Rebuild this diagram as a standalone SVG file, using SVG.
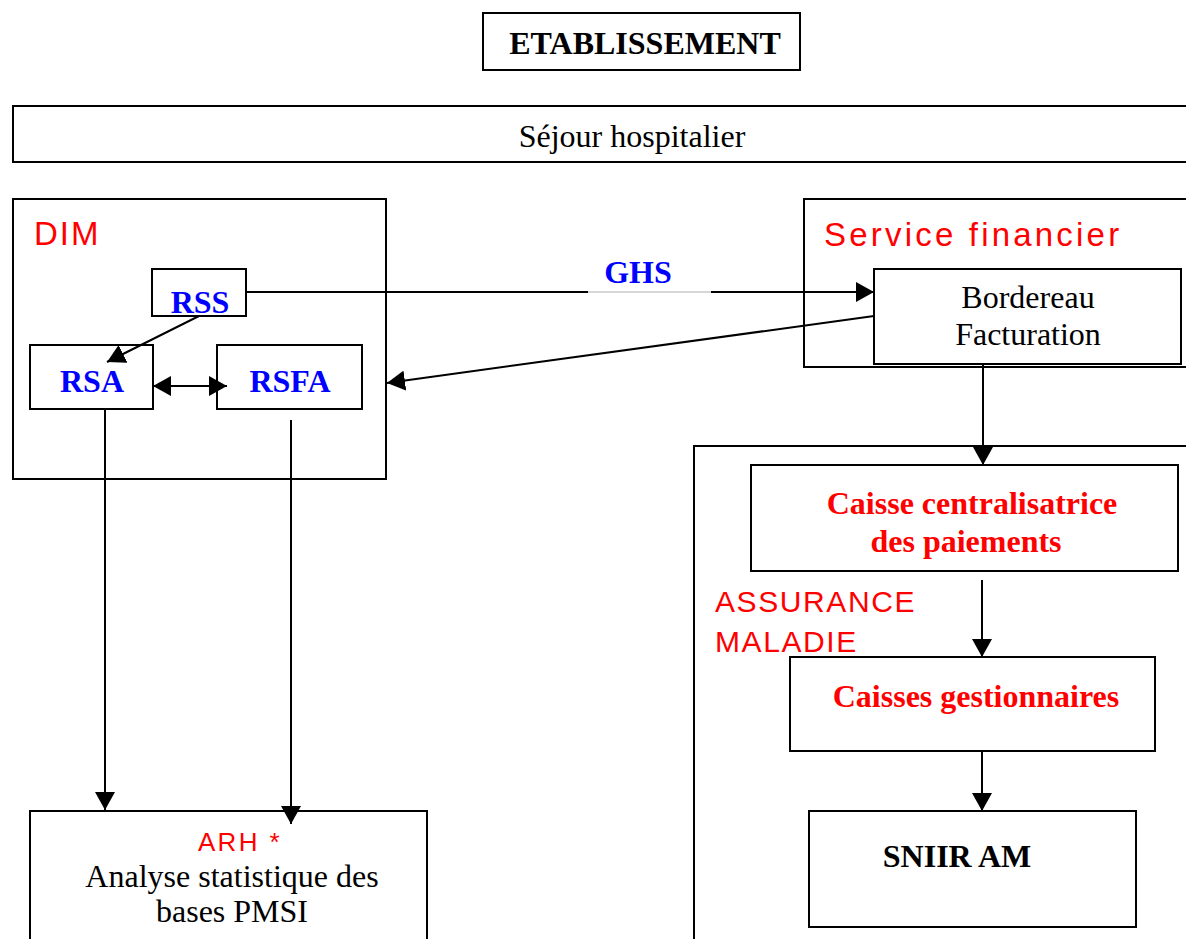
<svg xmlns="http://www.w3.org/2000/svg" width="1186" height="939" viewBox="0 0 1186 939">
  <style>
    .box { fill: none; stroke: #000; stroke-width: 2; }
    .wire { fill: none; stroke: #000; stroke-width: 2; }
    .serif { font-family: "Liberation Serif", "Times New Roman", serif; font-size: 32px; fill: #000; }
    .bold { font-weight: bold; }
    .blue { fill: #0000ff; }
    .red { fill: #ff0000; }
    .sans { font-family: "Liberation Sans", Arial, sans-serif; fill: #ff0000; }
    .mid { text-anchor: middle; }
  </style>
  <defs>
    <marker id="head" viewBox="0 0 18 20" refX="18" refY="10" markerWidth="18" markerHeight="20" markerUnits="userSpaceOnUse" orient="auto-start-reverse">
      <path d="M0,0 L18,10 L0,20 Z" fill="#000"/>
    </marker>
  </defs>
  <rect width="1186" height="939" fill="#fff"/>

  <g id="etablissement">
    <rect class="box" x="483" y="13" width="317" height="57"/>
    <text class="serif bold mid" x="645" y="54">ETABLISSEMENT</text>
  </g>

  <g id="sejour">
    <path class="box" d="M1190,106 H13 V162 H1190"/>
    <text class="serif mid" x="632" y="147">Séjour hospitalier</text>
  </g>

  <g id="dim">
    <rect class="box" x="13" y="199" width="373" height="280"/>
    <text class="sans" x="34" y="245" font-size="33" letter-spacing="2">DIM</text>
  </g>

  <g id="rss">
    <rect class="box" x="152" y="269" width="94" height="47"/>
    <text class="serif bold blue mid" x="200" y="313" font-size="31">RSS</text>
  </g>

  <g id="rsa">
    <rect class="box" x="30" y="345" width="123" height="64"/>
    <text class="serif bold blue mid" x="92" y="392" font-size="31">RSA</text>
  </g>

  <g id="rsfa">
    <rect class="box" x="217" y="345" width="145" height="64"/>
    <text class="serif bold blue mid" x="290" y="392" font-size="31">RSFA</text>
  </g>

  <g id="service-financier">
    <path class="box" d="M1190,199 H804 V367 H1190"/>
    <text class="sans" x="824" y="246" font-size="33" letter-spacing="3.2">Service financier</text>
  </g>

  <g id="bordereau">
    <rect class="box" x="874" y="269" width="307" height="95"/>
    <text class="serif mid" x="1028" y="308">Bordereau</text>
    <text class="serif mid" x="1028" y="345">Facturation</text>
  </g>

  <g id="assurance-maladie">
    <path class="box" d="M694,945 V446 H1190"/>
    <text class="sans" x="715" y="612" font-size="30" letter-spacing="1.6">ASSURANCE</text>
    <text class="sans" x="715" y="652" font-size="30" letter-spacing="1.6">MALADIE</text>
  </g>

  <g id="caisse-centralisatrice">
    <rect class="box" x="751" y="465" width="427" height="106"/>
    <text class="serif bold red mid" x="972" y="514">Caisse centralisatrice</text>
    <text class="serif bold red mid" x="966" y="552">des paiements</text>
  </g>

  <g id="caisses-gestionnaires">
    <rect class="box" x="790" y="657" width="365" height="94"/>
    <text class="serif bold red mid" x="976" y="707">Caisses gestionnaires</text>
  </g>

  <g id="sniir-am">
    <rect class="box" x="809" y="811" width="327" height="116"/>
    <text class="serif bold mid" x="957" y="867">SNIIR AM</text>
  </g>

  <g id="arh">
    <path class="box" d="M30,945 V811 H427 V945"/>
    <text class="sans mid" x="240" y="851" font-size="26" letter-spacing="2.4">ARH *</text>
    <text class="serif mid" x="232" y="887">Analyse statistique des</text>
    <text class="serif mid" x="232" y="922">bases PMSI</text>
  </g>

  <g id="connectors">
    <!-- RSS to Bordereau, label GHS sits in a gap of the line -->
    <path class="wire" d="M246,292 H588"/>
    <path d="M588,292 H711" stroke="#999" stroke-width="0.8" fill="none"/>
    <path class="wire" d="M711,292 H874" marker-end="url(#head)"/>
    <text class="serif bold blue mid" x="638" y="283" font-size="31">GHS</text>
    <!-- RSS to RSA -->
    <path class="wire" d="M199,316 L107,362" marker-end="url(#head)"/>
    <!-- RSA <-> RSFA -->
    <path class="wire" d="M153,386 H227" marker-start="url(#head)" marker-end="url(#head)"/>
    <!-- Bordereau back to DIM -->
    <path class="wire" d="M874,316 L387,383" marker-end="url(#head)"/>
    <!-- DIM outputs down to ARH -->
    <path class="wire" d="M105,409 V810" marker-end="url(#head)"/>
    <path class="wire" d="M291,420 V824" marker-end="url(#head)"/>
    <!-- payment chain -->
    <path class="wire" d="M983,364 V465" marker-end="url(#head)"/>
    <path class="wire" d="M982,580 V657" marker-end="url(#head)"/>
    <path class="wire" d="M982,751 V811" marker-end="url(#head)"/>
  </g>
</svg>
